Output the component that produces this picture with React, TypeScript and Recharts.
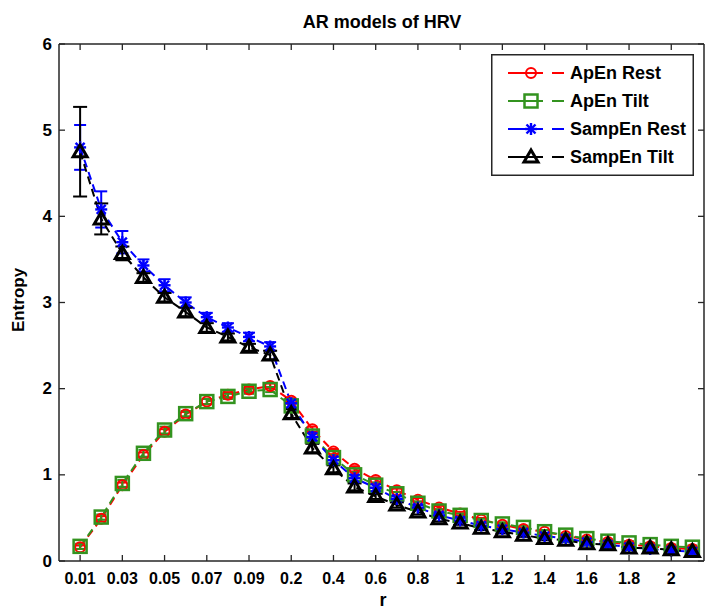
import { LineChart, Line, XAxis, YAxis, ErrorBar, Legend } from "recharts";

// r values on the x axis (categorical, evenly spaced)
const rLabels = [
  "0.01", "0.02", "0.03", "0.04", "0.05", "0.06", "0.07", "0.08", "0.09", "0.1",
  "0.2", "0.3", "0.4", "0.5", "0.6", "0.7", "0.8", "0.9", "1", "1.1",
  "1.2", "1.3", "1.4", "1.5", "1.6", "1.7", "1.8", "1.9", "2", "2.1",
];
const xTicks = [0, 2, 4, 6, 8, 10, 12, 14, 16, 18, 20, 22, 24, 26, 28];
const yTicks = [0, 1, 2, 3, 4, 5, 6];

const apEnRest = [
  0.16, 0.49, 0.88, 1.23, 1.5, 1.7, 1.85, 1.93, 1.99, 2.03,
  1.86, 1.53, 1.27, 1.07, 0.94, 0.82, 0.71, 0.62, 0.55, 0.48,
  0.42, 0.37, 0.34, 0.29, 0.25, 0.22, 0.19, 0.17, 0.15, 0.14,
];
const apEnTilt = [
  0.17, 0.51, 0.9, 1.25, 1.52, 1.71, 1.85, 1.91, 1.97, 1.99,
  1.8, 1.45, 1.2, 1.0, 0.88, 0.78, 0.67, 0.58, 0.53, 0.47,
  0.43, 0.39, 0.34, 0.3, 0.26, 0.23, 0.21, 0.19, 0.17, 0.16,
];
const sampEnRest = [
  4.8, 4.08, 3.7, 3.43, 3.2, 3.0, 2.83, 2.71, 2.6, 2.49,
  1.83, 1.44, 1.17, 0.96, 0.85, 0.72, 0.62, 0.53, 0.47, 0.41,
  0.37, 0.33, 0.29, 0.26, 0.22, 0.19, 0.16, 0.14, 0.12, 0.11,
];
const sampEnTilt = [
  4.75, 3.97, 3.57, 3.29, 3.06, 2.89, 2.71, 2.6, 2.48, 2.39,
  1.71, 1.31, 1.07, 0.86, 0.75, 0.65, 0.57, 0.49, 0.44, 0.38,
  0.34, 0.3, 0.26, 0.24, 0.2, 0.19, 0.15, 0.15, 0.13, 0.11,
];

// standard deviations (error bars)
const apEnRestSd = [
  0.02, 0.03, 0.03, 0.03, 0.03, 0.03, 0.03, 0.03, 0.03, 0.03,
  0.03, 0.03, 0.03, 0.03, 0.03, 0.02, 0.02, 0.02, 0.02, 0.02,
  0.02, 0.02, 0.02, 0.02, 0.02, 0.02, 0.02, 0.02, 0.02, 0.02,
];
const apEnTiltSd = [
  0.03, 0.03, 0.04, 0.04, 0.04, 0.03, 0.03, 0.03, 0.03, 0.03,
  0.03, 0.03, 0.03, 0.03, 0.03, 0.02, 0.02, 0.02, 0.02, 0.02,
  0.02, 0.02, 0.02, 0.02, 0.02, 0.02, 0.02, 0.02, 0.02, 0.02,
];
const sampEnRestSd = [
  0.26, 0.21, 0.13, 0.07, 0.07, 0.06, 0.05, 0.05, 0.05, 0.05,
  0.05, 0.05, 0.04, 0.04, 0.04, 0.03, 0.03, 0.03, 0.03, 0.03,
  0.03, 0.03, 0.03, 0.03, 0.03, 0.03, 0.03, 0.03, 0.03, 0.03,
];
const sampEnTiltSd = [
  0.52, 0.18, 0.08, 0.05, 0.05, 0.05, 0.05, 0.04, 0.04, 0.05,
  0.05, 0.05, 0.04, 0.04, 0.03, 0.03, 0.03, 0.03, 0.02, 0.02,
  0.02, 0.02, 0.02, 0.02, 0.02, 0.02, 0.02, 0.02, 0.02, 0.02,
];

const data = rLabels.map((r, i) => ({
  idx: i,
  r,
  apRest: apEnRest[i],
  apRestSd: apEnRestSd[i],
  apTilt: apEnTilt[i],
  apTiltSd: apEnTiltSd[i],
  sampRest: sampEnRest[i],
  sampRestSd: sampEnRestSd[i],
  sampTilt: sampEnTilt[i],
  sampTiltSd: sampEnTiltSd[i],
}));

const FONT = "'Liberation Sans', Arial, Helvetica, sans-serif";
const RED = "#ff0000";
const GREEN = "#33931f";
const BLUE = "#0000ff";
const BLACK = "#000000";
const AXIS = "#262626";

type MarkerProps = { cx: number; cy: number };

const CircleMark = ({ cx, cy }: MarkerProps) => (
  <circle cx={cx} cy={cy} r={5} fill="none" stroke={RED} strokeWidth={2} />
);
const SquareMark = ({ cx, cy }: MarkerProps) => (
  <rect x={cx - 6.5} y={cy - 6.5} width={13} height={13} fill="none" stroke={GREEN} strokeWidth={2.5} />
);
const StarMark = ({ cx, cy }: MarkerProps) => (
  <g stroke={BLUE} strokeWidth={2.4}>
    <line x1={cx - 6} y1={cy} x2={cx + 6} y2={cy} />
    <line x1={cx} y1={cy - 6} x2={cx} y2={cy + 6} />
    <line x1={cx - 4.5} y1={cy - 4.5} x2={cx + 4.5} y2={cy + 4.5} />
    <line x1={cx - 4.5} y1={cy + 4.5} x2={cx + 4.5} y2={cy - 4.5} />
  </g>
);
const TriangleMark = ({ cx, cy }: MarkerProps) => (
  <polygon
    points={`${cx},${cy - 7} ${cx + 7},${cy + 5} ${cx - 7},${cy + 5}`}
    fill="none"
    stroke={BLACK}
    strokeWidth={3}
  />
);

const dotWith = (Mark: (p: MarkerProps) => any) => (p: any) =>
  p.cx == null || p.cy == null ? <g key={p.index} /> : <Mark key={p.index} cx={p.cx} cy={p.cy} />;

// ticks point into the plot box
const BottomTick = ({ x, y, payload }: any) => (
  <g>
    <line x1={x} y1={y} x2={x} y2={y - 6} stroke={AXIS} strokeWidth={1.3} />
    <text x={x} y={y + 23} textAnchor="middle" fontFamily={FONT} fontWeight="bold" fontSize={16} fill="#000">
      {rLabels[payload.value]}
    </text>
  </g>
);
const TopTick = ({ x, y }: any) => (
  <line x1={x} y1={y} x2={x} y2={y + 6} stroke={AXIS} strokeWidth={1.3} />
);
const LeftTick = ({ x, y, payload }: any) => (
  <g>
    <line x1={x} y1={y} x2={x + 6} y2={y} stroke={AXIS} strokeWidth={1.3} />
    <text x={x - 7} y={y} textAnchor="end" dominantBaseline="central" fontFamily={FONT} fontWeight="bold" fontSize={17} fill="#000">
      {payload.value}
    </text>
  </g>
);
const RightTick = ({ x, y }: any) => (
  <line x1={x} y1={y} x2={x - 6} y2={y} stroke={AXIS} strokeWidth={1.3} />
);

const legendItems = [
  { label: "ApEn Rest", color: RED, Mark: CircleMark },
  { label: "ApEn Tilt", color: GREEN, Mark: SquareMark },
  { label: "SampEn Rest", color: BLUE, Mark: StarMark },
  { label: "SampEn Tilt", color: BLACK, Mark: TriangleMark },
];

const LegendBox = () => (
  <svg width={203} height={122} style={{ display: "block" }}>
    <rect x={0.75} y={0.75} width={201.5} height={120.5} fill="#fff" stroke={AXIS} strokeWidth={1.5} />
    {legendItems.map((it, i) => {
      const cy = 19 + i * 28;
      return (
        <g key={it.label}>
          <line x1={17} y1={cy} x2={52} y2={cy} stroke={it.color} strokeWidth={2} />
          <line x1={61} y1={cy} x2={73} y2={cy} stroke={it.color} strokeWidth={2} />
          <it.Mark cx={40} cy={cy} />
          <text x={79} y={cy} dominantBaseline="central" fontFamily={FONT} fontWeight="bold" fontSize={18} fill="#000">
            {it.label}
          </text>
        </g>
      );
    })}
  </svg>
);

export default function App() {
  return (
    <div style={{ position: "absolute", left: 0, top: 0, width: 707, height: 611, background: "#fff" }}>
      <LineChart width={707} height={611} data={data} margin={{ top: 43, right: 2, bottom: 0, left: 0 }}>
        <text x={382} y={28} textAnchor="middle" fontFamily={FONT} fontWeight="bold" fontSize={18} fill="#000">
          AR models of HRV
        </text>
        <text x={383} y={606} textAnchor="middle" fontFamily={FONT} fontWeight="bold" fontSize={18} fill="#000">
          r
        </text>
        <text
          x={18}
          y={300}
          textAnchor="middle"
          dominantBaseline="central"
          transform="rotate(-90 18 300)"
          fontFamily={FONT}
          fontWeight="bold"
          fontSize={17}
          fill="#000"
        >
          Entropy
        </text>
        <XAxis
          dataKey="idx"
          type="number"
          domain={[-1, 29.55]}
          ticks={xTicks}
          height={50}
          tickSize={0}
          tickMargin={0}
          tick={<BottomTick />}
          axisLine={{ stroke: AXIS, strokeWidth: 1.5 }}
          interval={0}
        />
        <XAxis
          xAxisId="top"
          orientation="top"
          dataKey="idx"
          type="number"
          domain={[-1, 29.55]}
          ticks={xTicks}
          height={1}
          tickSize={0}
          tickMargin={0}
          tick={<TopTick />}
          axisLine={{ stroke: AXIS, strokeWidth: 1.5 }}
          interval={0}
        />
        <YAxis
          type="number"
          domain={[0, 6]}
          ticks={yTicks}
          width={59}
          tickSize={0}
          tickMargin={0}
          tick={<LeftTick />}
          axisLine={{ stroke: AXIS, strokeWidth: 1.5 }}
          interval={0}
        />
        <YAxis
          yAxisId="right"
          orientation="right"
          type="number"
          domain={[0, 6]}
          ticks={yTicks}
          width={1}
          tickSize={0}
          tickMargin={0}
          tick={<RightTick />}
          axisLine={{ stroke: AXIS, strokeWidth: 1.5 }}
          interval={0}
        />
        <Legend
          layout="vertical"
          align="center"
          verticalAlign="middle"
          content={<LegendBox />}
          wrapperStyle={{ left: 491, top: 54, width: 203, height: 122 }}
        />
        {/* invisible series that ties the top and right frame axes to the data */}
        <Line
          xAxisId="top"
          yAxisId="right"
          dataKey="sampTilt"
          stroke="none"
          dot={false}
          activeDot={false}
          legendType="none"
          isAnimationActive={false}
        />
        <Line
          dataKey="apRest"
          stroke={RED}
          strokeWidth={2}
          strokeDasharray="8 5"
          dot={dotWith(CircleMark)}
          activeDot={false}
          isAnimationActive={false}
        >
          <ErrorBar dataKey="apRestSd" width={5} stroke={RED} strokeWidth={2} direction="y" />
        </Line>
        <Line
          dataKey="apTilt"
          stroke={GREEN}
          strokeWidth={2}
          strokeDasharray="8 5"
          dot={dotWith(SquareMark)}
          activeDot={false}
          isAnimationActive={false}
        >
          <ErrorBar dataKey="apTiltSd" width={5} stroke={GREEN} strokeWidth={2} direction="y" />
        </Line>
        <Line
          dataKey="sampRest"
          stroke={BLUE}
          strokeWidth={2}
          strokeDasharray="8 5"
          dot={dotWith(StarMark)}
          activeDot={false}
          isAnimationActive={false}
        >
          <ErrorBar dataKey="sampRestSd" width={6} stroke={BLUE} strokeWidth={2} direction="y" />
        </Line>
        <Line
          dataKey="sampTilt"
          stroke={BLACK}
          strokeWidth={2}
          strokeDasharray="8 5"
          dot={dotWith(TriangleMark)}
          activeDot={false}
          isAnimationActive={false}
        >
          <ErrorBar dataKey="sampTiltSd" width={7} stroke={BLACK} strokeWidth={2} direction="y" />
        </Line>
      </LineChart>
    </div>
  );
}
